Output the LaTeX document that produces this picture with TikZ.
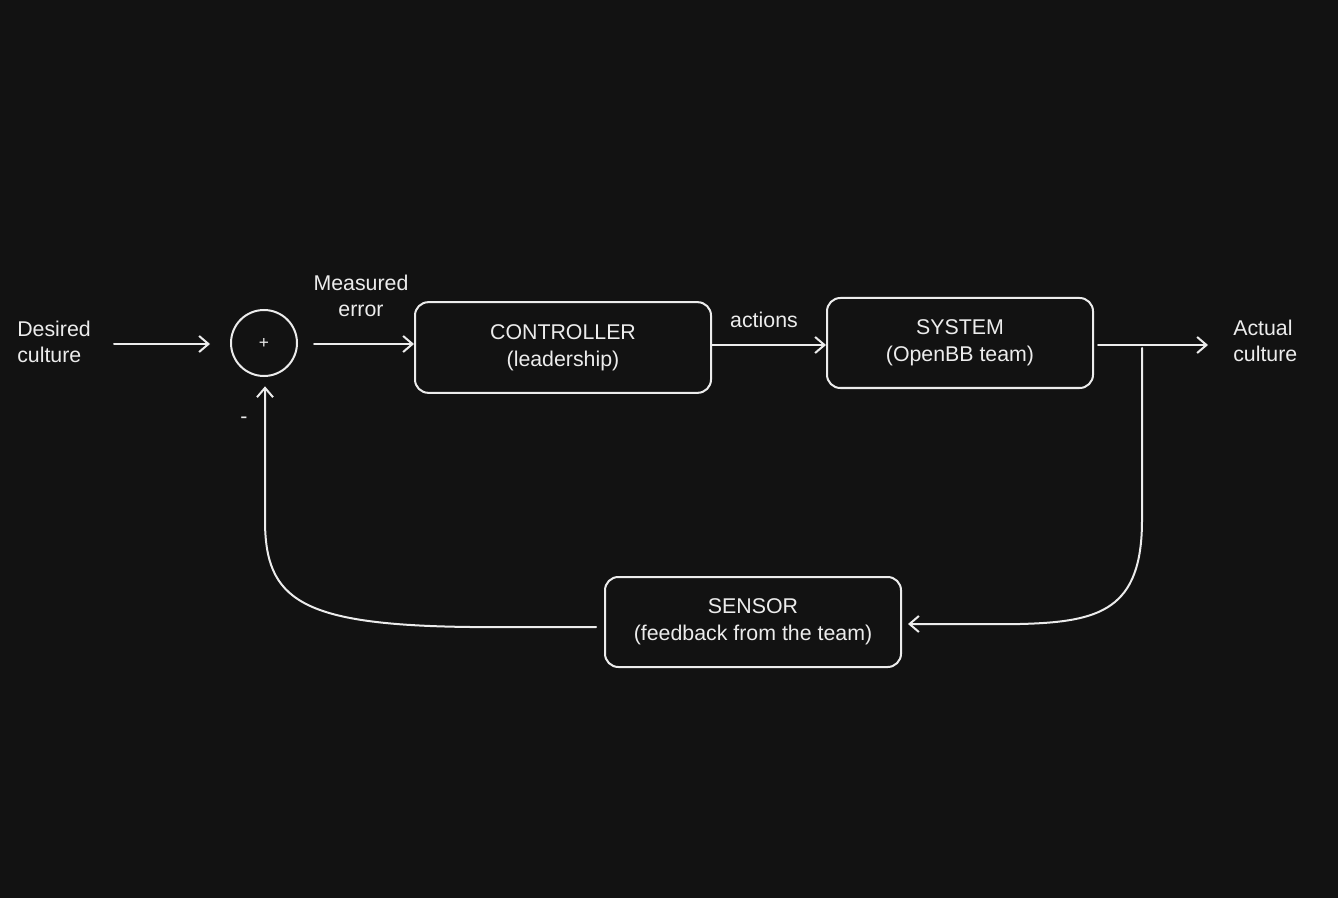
\documentclass[tikz,border=0pt]{standalone}
\usepackage{fontspec}
\setmainfont{Liberation Sans}
\usetikzlibrary{arrows.meta}
\definecolor{bg}{HTML}{121212}
\definecolor{ink}{HTML}{ECECEC}
\begin{document}
\begin{tikzpicture}[x=0.75pt,y=-0.75pt,
  txt/.style={text=ink, align=center, inner sep=0pt, font=\fontsize{16}{20}\selectfont},
  box/.style={txt, draw=ink, line width=1.5pt, rounded corners=10pt},
  arr/.style={draw=ink, line width=1.5pt, line cap=round, -{Straight Barb[length=7pt,width=12pt,line width=1.5pt]}}]
\fill[bg] (0,0) rectangle (1338,898);
\useasboundingbox (0,0) rectangle (1338,898);

\node[txt, anchor=west, align=left] (desired) at (17,342) {Desired\\culture};
\node[draw=ink, line width=1.5pt, circle, minimum size=49.5pt, inner sep=0pt, text=ink, font=\fontsize{13}{15}\selectfont] (sum) at (264,343) {+};
\node[txt] (meas) at (361,296) {Measured\\error};
\node[box, minimum width=222pt, minimum height=68pt] (ctrl) at (563,347.5) {CONTROLLER\\(leadership)};
\node[txt] (act) at (764,320) {actions};
\node[box, minimum width=199.5pt, minimum height=67.5pt] (sys) at (960,343) {SYSTEM\\(OpenBB team)};
\node[txt, anchor=west, align=left] (actual) at (1233,341) {Actual\\culture};
\node[box, minimum width=222pt, minimum height=67.5pt] (sens) at (753,622) {SENSOR\\(feedback from the team)};
\node[txt] (minus) at (244,420) {-};

\coordinate (din) at (114,344);
\coordinate (sin) at (314,344);
\coordinate (sout) at (1098,345);
\coordinate (aout) at (1208,345);
\coordinate (tap) at (1142,348);
\coordinate (rc) at (1020,624);
\coordinate (lc) at (470,627);
\coordinate (up) at (265,520);

\draw[arr, shorten >=15pt] (din) -- (sum.west |- din);
\draw[arr] (sin) -- (ctrl.west |- sin);
\draw[arr] (ctrl.east |- 0,345) -- (sys.west |- 0,345);
\draw[arr] (sout) -- (aout);
\draw[arr, shorten >=4.5pt] (tap) -- (1142,520) .. controls (1142,610) and (1100,622) .. (rc) -- (sens.east |- rc);
\draw[arr, shorten <=6pt, shorten >=7pt] (sens.west |- lc) -- (lc) .. controls (300,625) and (265,600) .. (up) -- (sum.south -| up);
\end{tikzpicture}
\end{document}
